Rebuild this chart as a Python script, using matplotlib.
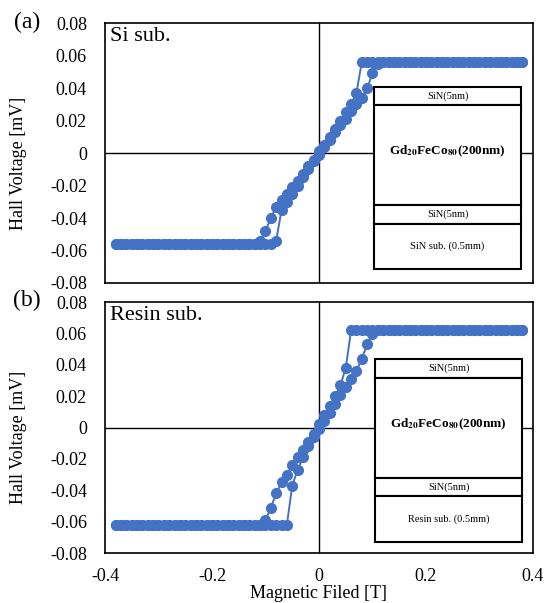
import matplotlib
matplotlib.use('Agg')
import matplotlib.pyplot as plt
from matplotlib.patches import Rectangle

plt.rcParams['font.family'] = ['Liberation Serif', 'DejaVu Serif']
plt.rcParams['mathtext.fontset'] = 'stix'
plt.rcParams['axes.unicode_minus'] = False

# applied field [T], same grid for both sweeps
field = [-0.38, -0.37, -0.36, -0.35, -0.34, -0.33, -0.32, -0.31, -0.30, -0.29,
         -0.28, -0.27, -0.26, -0.25, -0.24, -0.23, -0.22, -0.21, -0.20, -0.19,
         -0.18, -0.17, -0.16, -0.15, -0.14, -0.13, -0.12, -0.11, -0.10, -0.09,
         -0.08, -0.07, -0.06, -0.05, -0.04, -0.03, -0.02, -0.01, 0.00, 0.01,
         0.02, 0.03, 0.04, 0.05, 0.06, 0.07, 0.08, 0.09, 0.10, 0.11,
         0.12, 0.13, 0.14, 0.15, 0.16, 0.17, 0.18, 0.19, 0.20, 0.21,
         0.22, 0.23, 0.24, 0.25, 0.26, 0.27, 0.28, 0.29, 0.30, 0.31,
         0.32, 0.33, 0.34, 0.35, 0.36, 0.37, 0.38]

# (a) Si sub. Hall voltage [mV]
si_up = [-0.056, -0.056, -0.056, -0.056, -0.056, -0.056, -0.056, -0.056, -0.056, -0.056,
         -0.056, -0.056, -0.056, -0.056, -0.056, -0.056, -0.056, -0.056, -0.056, -0.056,
         -0.056, -0.056, -0.056, -0.056, -0.056, -0.056, -0.056, -0.056, -0.056, -0.056,
         -0.054, -0.035, -0.030, -0.025, -0.020, -0.015, -0.010, -0.005, -0.001, 0.004,
         0.008, 0.013, 0.017, 0.021, 0.026, 0.030, 0.034, 0.040, 0.049, 0.055,
         0.056, 0.056, 0.056, 0.056, 0.056, 0.056, 0.056, 0.056, 0.056, 0.056,
         0.056, 0.056, 0.056, 0.056, 0.056, 0.056, 0.056, 0.056, 0.056, 0.056,
         0.056, 0.056, 0.056, 0.056, 0.056, 0.056, 0.056]
si_down = [-0.056, -0.056, -0.056, -0.056, -0.056, -0.056, -0.056, -0.056, -0.056, -0.056,
           -0.056, -0.056, -0.056, -0.056, -0.056, -0.056, -0.056, -0.056, -0.056, -0.056,
           -0.056, -0.056, -0.056, -0.056, -0.056, -0.056, -0.056, -0.054, -0.048, -0.040,
           -0.033, -0.029, -0.025, -0.021, -0.017, -0.013, -0.008, -0.004, 0.001, 0.005,
           0.010, 0.015, 0.020, 0.025, 0.030, 0.037, 0.056, 0.056, 0.056, 0.056,
           0.056, 0.056, 0.056, 0.056, 0.056, 0.056, 0.056, 0.056, 0.056, 0.056,
           0.056, 0.056, 0.056, 0.056, 0.056, 0.056, 0.056, 0.056, 0.056, 0.056,
           0.056, 0.056, 0.056, 0.056, 0.056, 0.056, 0.056]

# (b) Resin sub.
resin_up = [-0.062, -0.062, -0.062, -0.062, -0.062, -0.062, -0.062, -0.062, -0.062, -0.062,
            -0.062, -0.062, -0.062, -0.062, -0.062, -0.062, -0.062, -0.062, -0.062, -0.062,
            -0.062, -0.062, -0.062, -0.062, -0.062, -0.062, -0.062, -0.062, -0.062, -0.062,
            -0.062, -0.062, -0.062, -0.037, -0.027, -0.019, -0.012, -0.006, -0.001, 0.004,
            0.009, 0.015, 0.021, 0.026, 0.031, 0.036, 0.044, 0.053, 0.060, 0.062,
            0.062, 0.062, 0.062, 0.062, 0.062, 0.062, 0.062, 0.062, 0.062, 0.062,
            0.062, 0.062, 0.062, 0.062, 0.062, 0.062, 0.062, 0.062, 0.062, 0.062,
            0.062, 0.062, 0.062, 0.062, 0.062, 0.062, 0.062]
resin_down = [-0.062, -0.062, -0.062, -0.062, -0.062, -0.062, -0.062, -0.062, -0.062, -0.062,
              -0.062, -0.062, -0.062, -0.062, -0.062, -0.062, -0.062, -0.062, -0.062, -0.062,
              -0.062, -0.062, -0.062, -0.062, -0.062, -0.062, -0.062, -0.062, -0.059, -0.051,
              -0.042, -0.035, -0.030, -0.024, -0.019, -0.014, -0.009, -0.004, 0.002, 0.008,
              0.014, 0.020, 0.027, 0.038, 0.062, 0.062, 0.062, 0.062, 0.062, 0.062,
              0.062, 0.062, 0.062, 0.062, 0.062, 0.062, 0.062, 0.062, 0.062, 0.062,
              0.062, 0.062, 0.062, 0.062, 0.062, 0.062, 0.062, 0.062, 0.062, 0.062,
              0.062, 0.062, 0.062, 0.062, 0.062, 0.062, 0.062]

yticks = [-0.08, -0.06, -0.04, -0.02, 0, 0.02, 0.04, 0.06, 0.08]
ytick_labels = ['-0.08', '-0.06', '-0.04', '-0.02', '0', '0.02', '0.04', '0.06', '0.08']
xticks = [-0.4, -0.2, 0, 0.2, 0.4]
xtick_labels = ['-0.4', '-0.2', '0', '0.2', '0.4']

blue = '#4472C4'

fig = plt.figure(figsize=(5.48, 6.03), dpi=100)
ax1 = fig.add_axes([0.1916, 0.5307, 0.781, 0.431])
ax2 = fig.add_axes([0.1916, 0.0829, 0.781, 0.416])


def stack(ax, x0, x1, edges, sub_label):
    # edges: top..bottom of the four layers in axes fraction
    labels = ['SiN(5nm)', r'Gd$_{\mathbf{20}}$FeCo$_{\mathbf{80}}$(200nm)', 'SiN(5nm)', sub_label]
    for i, lab in enumerate(labels):
        top, bot = edges[i], edges[i + 1]
        ax.add_patch(Rectangle((x0, bot), x1 - x0, top - bot, transform=ax.transAxes,
                               facecolor='white', edgecolor='black', lw=1.5, zorder=5))
        yc = (top + bot) / 2
        if i == 1:
            ax.text((x0 + x1) / 2, yc + 0.015, lab, transform=ax.transAxes, ha='center',
                    va='center', fontsize=9.5, fontweight='bold', zorder=6)
        else:
            ax.text((x0 + x1) / 2, yc, lab, transform=ax.transAxes, ha='center',
                    va='center', fontsize=7.5, zorder=6)


for ax, up, down, name in [(ax1, si_up, si_down, 'Si sub.'), (ax2, resin_up, resin_down, 'Resin sub.')]:
    ax.plot(field, down, '-o', color=blue, ms=7, lw=1.4, zorder=3)
    ax.plot(field, up, '-o', color=blue, ms=7, lw=1.4, zorder=3)
    ax.axhline(0, color='black', lw=1, zorder=2)
    ax.axvline(0, color='black', lw=1, zorder=2)
    ax.set_xlim(-0.4, 0.4)
    ax.set_ylim(-0.08, 0.08)
    ax.set_yticks(yticks)
    ax.set_yticklabels(ytick_labels)
    ax.set_xticks(xticks)
    ax.set_xticklabels(xtick_labels)
    ax.tick_params(length=0, labelsize=13, pad=13)
    for s in ax.spines.values():
        s.set_linewidth(1.2)
    ax.set_ylabel('Hall Voltage [mV]', fontsize=13)
    ax.yaxis.set_label_coords(-0.182, 0.46)
    ax.text(0.012, 0.985, name, transform=ax.transAxes, ha='left', va='top', fontsize=16)

ax1.tick_params(labelbottom=False)
ax2.tick_params(axis='x', pad=11)
ax2.set_xlabel('Magnetic Filed [T]', fontsize=13, labelpad=0)

stack(ax1, 0.6285, 0.972, [0.755, 0.685, 0.300, 0.227, 0.054], 'SiN sub. (0.5mm)')
stack(ax2, 0.631, 0.974, [0.773, 0.697, 0.299, 0.227, 0.044], 'Resin sub. (0.5mm)')

fig.text(0.049, 0.9635, '(a)', fontsize=17, ha='center', va='center')
fig.text(0.049, 0.5025, '(b)', fontsize=17, ha='center', va='center')

plt.savefig('out.png', dpi=100)
